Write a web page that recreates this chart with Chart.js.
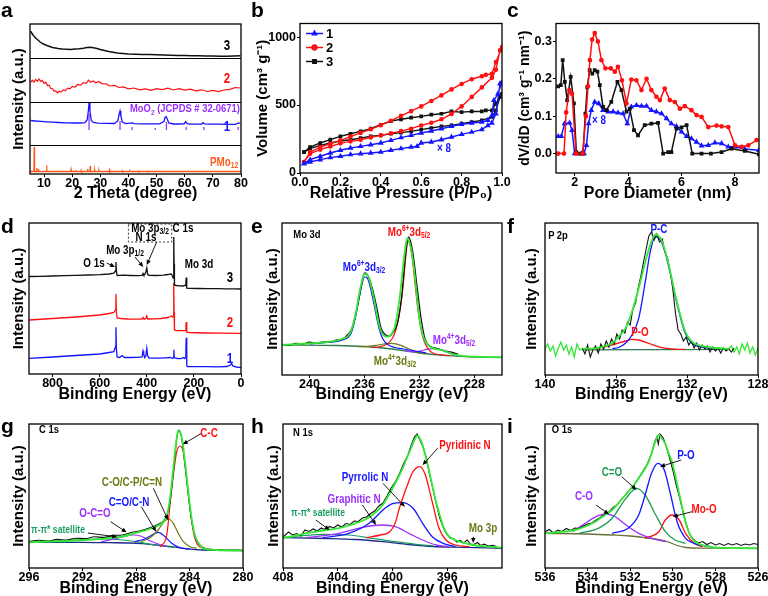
<!DOCTYPE html>
<html>
<head>
<meta charset="utf-8">
<script src="https://cdn.jsdelivr.net/npm/chart.js@4.4.1/dist/chart.umd.min.js"></script>
<style>
html, body { margin: 0; padding: 0; overflow: hidden; background: #fff; }
body { width: 768px; height: 596px; position: relative; }
canvas { position: absolute; }
.note { position: absolute; transform: translate(-50%, -50%) scaleX(0.82); font-weight: bold; font-family: "Liberation Sans", Arial, sans-serif; white-space: nowrap; line-height: 1; }
.note sub { font-size: 68%; vertical-align: -0.3em; }
.note sup { font-size: 68%; vertical-align: 0.55em; }
.tag { position: absolute; font: bold 21px "Liberation Sans Narrow", "Liberation Sans", Arial, sans-serif; line-height: 20px; }
</style>
</head>
<body>
<script>
// ---- panel a : XRD ----
const aX3 = [5.2, 5.6, 6.2, 7.0, 7.8, 8.6, 9.4, 10.2, 11.0, 12.0, 13.0, 14.0, 15.0, 16.5, 18.0, 19.5, 21.0, 22.5, 24.0, 25.2, 26.4, 27.6, 28.8, 30.0, 31.5, 33.0, 34.5, 36.0, 38.0, 40.0, 42.5, 45, 47.5, 50, 52.5, 55, 57.5, 60, 62.5, 65, 67.5, 70, 72.5, 75, 77.5, 79.8];
const aY3 = [143, 141, 138.5, 136, 134, 132, 130.5, 129.5, 128.5, 127.5, 126.5, 126, 125.5, 125, 124.8, 124.6, 125, 125.3, 125.8, 126.5, 126.8, 126.2, 125.5, 124.5, 123.5, 122.5, 121.8, 121, 120.5, 120, 119.8, 119.5, 119.4, 119.2, 119, 118.8, 118.6, 118.5, 118.3, 118.2, 118, 117.9, 117.8, 117.8, 118, 118.2];
const aX2 = [5.2, 5.8, 6.4, 7.0, 7.6, 8.2, 8.8, 9.4, 10.0, 10.6, 11.2, 11.8, 12.4, 13.0, 13.6, 14.2, 14.8, 15.4, 16.0, 16.8, 17.6, 18.4, 19.2, 20.0, 21.0, 22.0, 23.0, 24.0, 25.0, 25.8, 26.6, 27.4, 28.4, 29.4, 30.6, 32.0, 33.4, 35.0, 36.6, 38.2, 40, 42, 44, 46, 48, 50, 52, 54, 56, 58, 60, 62, 64, 66, 68, 70, 72, 74, 76, 78, 79.8];
const aY2 = [91.5, 93.8, 91.7, 94.6, 92.8, 95.0, 92.6, 93.5, 90.6, 91.8, 88.4, 88.9, 85.6, 85.3, 82.6, 83.1, 81.2, 82.8, 81.9, 84.1, 83.4, 85.8, 85.2, 87.6, 87.0, 89.5, 88.8, 91.4, 90.6, 93.9, 91.8, 93.0, 91.2, 92.6, 90.4, 90.1, 88.0, 88.6, 86.5, 87.1, 85.2, 86.0, 84.2, 85.1, 83.6, 85.4, 84.3, 85.9, 84.0, 85.3, 83.8, 84.9, 83.1, 84.2, 82.5, 83.6, 82.4, 84.0, 84.6, 86.5, 86.0];
const aX1 = [5.2, 7, 9, 11, 13, 15, 18, 21, 23, 24.5, 25.3, 25.7, 26.0, 26.3, 26.8, 27.5, 29, 32, 35, 36.2, 36.7, 37.0, 37.3, 37.8, 39, 41.3, 42, 45, 48, 51, 52.6, 53.0, 53.4, 53.8, 54.3, 56, 58, 59.8, 60.3, 60.8, 62, 64, 66.0, 66.5, 67.0, 69, 72, 75, 78, 79.2, 79.8];
const aY1 = [53.5, 53, 52.6, 52.2, 51.8, 51.5, 51.2, 51.0, 51.0, 51.3, 54, 62, 71.5, 63, 53.5, 51.5, 50.8, 50.6, 50.5, 53, 60, 63, 58, 52, 50.4, 51.2, 50.3, 50.2, 50.1, 50.2, 52.5, 56.5, 57.3, 55, 51, 50.0, 50.0, 50.1, 52.3, 50.3, 50.0, 49.9, 50.0, 51.3, 50.1, 49.8, 49.8, 49.7, 49.7, 51.0, 50.5];
const aRefX = [26.0, 37.0, 41.3, 49.5, 53.5, 60.5, 66.8, 79.0];
const aRefTop = [60, 53, 47, 46, 52, 47, 47, 47];
const aRefBase = 44;
const aPX = [6.5, 7.4, 8.0, 10.9, 16.2, 19.6, 21.2, 23.2, 25.5, 26.4, 28.0, 29.5, 31.5, 33.2, 35.0, 37.8, 40.5, 43.5, 47.0];
const aPTop = [27, 6, 5, 8.5, 3.6, 4.5, 4, 3.6, 5, 8, 4, 3.6, 3.3, 4, 3.3, 3.2, 3, 3, 2.9];
const aPBase = 2.5;
const aBands = [29, 72, 116];
const aTicks = [10, 20, 30, 40, 50, 60, 70, 80];

// ---- panel b : N2 isotherms (adsorption then desorption) ----
const b1X = [0.02, 0.05, 0.1, 0.15, 0.2, 0.25, 0.3, 0.35, 0.4, 0.45, 0.5, 0.55, 0.58, 0.6, 0.65, 0.7, 0.75, 0.8, 0.85, 0.9, 0.93, 0.95, 0.97, 0.99, 1.0, 0.98, 0.96, 0.95, 0.93, 0.9, 0.85, 0.8, 0.75, 0.7, 0.65, 0.6, 0.55, 0.5, 0.45, 0.4, 0.35, 0.3, 0.25, 0.2, 0.15, 0.1, 0.05, 0.02];
const b1Y = [69, 81, 98, 113, 123, 135, 142, 147, 154, 167, 179, 191, 196, 221, 228, 245, 265, 284, 301, 319, 350, 368, 436, 657, 669, 583, 534, 424, 387, 375, 368, 358, 343, 326, 309, 294, 277, 260, 240, 221, 208, 196, 184, 167, 147, 123, 98, 69];
const b2X = [0.02, 0.05, 0.1, 0.15, 0.2, 0.25, 0.3, 0.35, 0.4, 0.45, 0.5, 0.55, 0.6, 0.65, 0.7, 0.75, 0.8, 0.85, 0.9, 0.95, 0.97, 0.99, 1.0, 0.97, 0.95, 0.92, 0.9, 0.85, 0.8, 0.75, 0.7, 0.65, 0.6, 0.55, 0.5, 0.45, 0.4, 0.35, 0.3, 0.25, 0.2, 0.15, 0.1, 0.05, 0.02];
const b2Y = [81, 142, 172, 195, 218, 233, 245, 262, 277, 292, 308, 326, 350, 370, 395, 435, 490, 560, 630, 700, 760, 902, 926, 816, 730, 722, 712, 690, 655, 615, 571, 530, 490, 455, 420, 385, 352, 322, 295, 268, 240, 215, 191, 154, 81];
const b3X = b2X;
const b3Y = [154, 179, 203, 221, 235, 245, 257, 270, 277, 289, 297, 306, 319, 331, 343, 350, 363, 375, 387, 412, 461, 560, 583, 510, 461, 461, 453, 453, 448, 453, 436, 429, 417, 407, 395, 382, 355, 326, 306, 289, 270, 245, 221, 191, 154];
const bXTicks = [0, 0.2, 0.4, 0.6, 0.8, 1.0];
const bYTicks = [0, 500, 1000];

// ---- panel c : pore size distribution ----
const c2X = [1.38, 1.6, 1.68, 1.8, 1.9, 2.05, 2.3, 2.42, 2.5, 2.57, 2.65, 2.75, 2.87, 3.0, 3.15, 3.35, 3.5, 3.62, 3.77, 3.94, 4.12, 4.31, 4.5, 4.69, 4.87, 5.06, 5.19, 5.37, 5.56, 5.75, 5.94, 6.12, 6.37, 6.56, 6.75, 7.0, 7.31, 7.5, 7.75, 8.0, 8.25, 8.5, 8.81];
const c2Y = [0, 0, 0.11, 0.17, 0.16, 0, 0, 0.1, 0.18, 0.25, 0.305, 0.322, 0.3, 0.25, 0.228, 0.228, 0.219, 0.232, 0.196, 0.134, 0.198, 0.196, 0.17, 0.2, 0.17, 0.152, 0.143, 0.174, 0.143, 0.138, 0.12, 0.127, 0.116, 0.103, 0.098, 0.071, 0.075, 0.073, 0.071, 0.022, 0.018, 0.022, 0.036];
const c3X = [1.38, 1.48, 1.55, 1.63, 1.72, 1.85, 1.97, 2.06, 2.19, 2.31, 2.4, 2.47, 2.56, 2.66, 2.75, 2.85, 2.94, 3.06, 3.19, 3.37, 3.6, 3.75, 3.94, 4.06, 4.22, 4.37, 4.62, 4.87, 5.12, 5.31, 5.5, 5.62, 5.81, 6.0, 6.19, 6.4, 6.75, 7.1, 7.5, 7.87, 8.37, 8.9];
const c3Y = [0.18, 0.183, 0.25, 0.192, 0.143, 0.205, 0.134, 0.004, 0, 0, 0.107, 0.178, 0.223, 0.214, 0.223, 0.219, 0.183, 0.125, 0.116, 0.138, 0.192, 0.17, 0.112, 0.12, 0.0625, 0.049, 0.076, 0.08, 0.082, 0, 0.004, 0.004, 0.067, 0.07, 0.076, 0, 0, 0, 0.004, 0.013, 0.007, -0.002];
const c1X = [1.38, 1.5, 1.62, 1.81, 1.9, 2.0, 2.25, 2.35, 2.44, 2.52, 2.62, 2.75, 2.9, 3.06, 3.25, 3.44, 3.62, 3.81, 3.97, 4.12, 4.31, 4.5, 4.69, 4.87, 5.06, 5.25, 5.44, 5.62, 5.81, 6.0, 6.19, 6.37, 6.56, 6.75, 7.0, 7.25, 7.5, 7.75, 8.0, 8.37, 8.9];
const c1Y = [0.046, 0.046, 0.08, 0.082, 0.062, 0, 0, 0, 0.022, 0.08, 0.116, 0.138, 0.134, 0.116, 0.112, 0.112, 0.109, 0.107, 0.08, 0.125, 0.129, 0.127, 0.127, 0.116, 0.112, 0.107, 0.094, 0.08, 0.073, 0.058, 0.046, 0.04, 0.031, 0.021, 0.022, 0.029, 0.027, 0.018, 0.018, 0.012, 0.009];
const cXTicks = [2, 4, 6, 8];
const cYTicks = [0, 0.1, 0.2, 0.3];

// ---- panel d : XPS survey ----
const dX3 = [900, 850, 800, 750, 700, 650, 600, 560, 540, 533, 531, 529, 526, 515, 500, 470, 440, 420, 416, 413, 409, 404, 400, 396, 390, 360, 330, 310, 300, 295, 290, 287.5, 286, 285, 284, 282.5, 275, 260, 245, 240, 236, 234, 232.5, 231, 229.5, 220, 180, 140, 100, 60, 30, 0];
const dY3 = [97.5, 97.7, 98, 98.3, 98.6, 99, 99.4, 100, 100.8, 103, 112, 103, 98.5, 98.7, 98.8, 98.5, 98.3, 98.7, 100.5, 99, 99.3, 102, 106, 99.5, 98.6, 98.5, 98.8, 99.5, 100.2, 100, 97, 96, 115, 137, 110, 89, 88.5, 88.2, 88, 88.5, 88.5, 92, 96.5, 90, 85.8, 85.6, 85.5, 85.4, 85.3, 85.2, 85.2, 85];
const dX2 = [900, 800, 700, 600, 560, 540, 533, 531, 529, 526, 510, 480, 450, 420, 416, 413, 409, 404, 400, 396, 370, 340, 310, 300, 295, 290, 287.5, 286, 285, 284, 282.5, 275, 250, 240, 236, 234, 232.5, 231, 229.5, 220, 150, 80, 0];
const dY2 = [54, 55.5, 57, 59, 60.5, 61.5, 64, 80, 62, 56, 55.5, 55, 54.8, 55, 56.5, 55.5, 55, 55.5, 58, 55, 55.2, 55.5, 56.5, 57.5, 58, 57, 58, 70, 91, 62, 44, 43.5, 43.3, 43.3, 43.5, 47, 52, 46, 41.8, 41.5, 41, 40.8, 40.7];
const dX1 = [900, 800, 700, 600, 560, 540, 533, 531, 529, 526, 515, 505, 495, 470, 440, 420, 416, 413, 409, 404, 400, 396, 390, 350, 320, 300, 290, 286.5, 285, 283.5, 280, 270, 255, 245, 240, 236, 234, 232.5, 231, 229.5, 227, 220, 150, 100, 60, 45, 40, 35, 20, 0];
const dY1 = [15.7, 17, 18.5, 20, 21.5, 22.3, 27, 46.7, 25, 17, 16.5, 18.5, 16.5, 16.5, 16.6, 17, 23, 20, 16.5, 18, 25.7, 18, 16, 15.8, 16.2, 16.5, 15.5, 17, 24.3, 16.5, 16, 15.5, 15.4, 16.5, 15.5, 16.5, 24, 36.3, 25, 8, 7.5, 7.4, 7.3, 7.2, 7.5, 9, 10.7, 8, 7, 6.3];
const dTicks = [800, 600, 400, 200, 0];

// ---- panel e : Mo 3d ----
const eEnvX = [242, 241, 240, 239, 238.5, 238, 237.5, 237.2, 237, 236.8, 236.6, 236.4, 236.2, 236.0, 235.8, 235.6, 235.4, 235.2, 235.0, 234.8, 234.6, 234.4, 234.2, 234.0, 233.8, 233.6, 233.4, 233.2, 233.0, 232.9, 232.8, 232.6, 232.4, 232.2, 232.0, 231.8, 231.6, 231.3, 231.0, 230.6, 230.2, 229.8, 229.4, 229, 228, 227, 226];
const eEnvY = [30, 30.8, 31.7, 32.5, 33.3, 34.5, 36.7, 39, 43.3, 52, 64, 80, 93, 101, 100, 93, 82, 68, 53.3, 44, 39.5, 38.3, 39, 41.7, 48, 62, 82, 108, 130, 136.7, 135, 126, 106, 80, 56, 42, 34, 29, 26.7, 25.5, 24, 22, 20.5, 19.3, 18.3, 17.9, 17.7];
const eRawX = [242, 241.5, 241, 240.5, 240, 239.5, 239, 238.5, 238, 237.6, 237.2, 236.9, 236.6, 236.3, 236.0, 235.7, 235.4, 235.1, 234.8, 234.5, 234.2, 233.9, 233.6, 233.3, 233.0, 232.8, 232.5, 232.2, 231.9, 231.6, 231.2, 230.8, 230.4, 230.0, 229.6, 229.2];
const eRawY = [30.5, 29.6, 31.5, 31.0, 32.8, 31.6, 33.2, 33.0, 35.0, 36.0, 40.5, 47, 63, 84, 102, 98, 85, 67, 47, 40.5, 38.8, 43, 52, 78, 122, 138, 124, 91, 58, 36, 28.5, 26.8, 25.2, 23.6, 22.5, 20.8];
const eBlueX = [240, 238.5, 237.5, 237, 236.7, 236.4, 236.2, 236.0, 235.8, 235.6, 235.3, 235.0, 234.7, 234.3, 233.8, 233.2, 232.5, 231.5];
const eBlueY = [31.2, 32.8, 35.5, 41, 55, 76, 90, 98, 97, 89, 70, 50, 37, 30.5, 27.5, 26, 24.5, 22];
const eRedX = [235.5, 235, 234.5, 234, 233.7, 233.4, 233.2, 233.0, 232.85, 232.7, 232.5, 232.3, 232.1, 231.8, 231.5, 231.2, 230.8, 230.3, 229.8];
const eRedY = [27.5, 28, 30, 36, 46, 66, 88, 118, 134, 131, 114, 88, 64, 40, 29, 23.5, 21, 20, 19.3];
const eOliveX = [236.5, 235.8, 235.2, 234.6, 234.1, 233.7, 233.3, 232.8, 232.2, 231.6];
const eOliveY = [28.3, 28.6, 29.6, 31.0, 31.6, 31.2, 29.4, 26.2, 23, 21];
const ePurpleX = [233, 232.4, 231.9, 231.4, 231.0, 230.6, 230.2, 229.7, 229.2, 228.6];
const ePurpleY = [23.8, 23.2, 24.2, 25.8, 26.4, 25.8, 23.8, 21.2, 19.5, 18.4];
const eBaseX = [242, 238, 236, 235, 234, 233, 232, 231, 230, 229, 228, 226];
const eBaseY = [30, 29.5, 28.5, 27.5, 26, 24, 22, 20.5, 19.5, 18.6, 18, 17.7];
const eTicks = [240, 236, 232, 228];

// ---- panel f : P 2p ----
const fEnvX = [137.9, 137.16, 136.6, 136.23, 135.85, 135.47, 135.1, 134.72, 134.35, 134.07, 133.78, 133.5, 133.22, 132.94, 132.66, 132.38, 132.1, 131.72, 130.97, 130.3, 129.65];
const fEnvY = [26.3, 26.7, 29, 31.7, 38.3, 46.7, 63.3, 86.7, 113, 130, 140.7, 136.7, 123.3, 103, 80, 60, 43.3, 33.3, 28.3, 27, 26];
const fLeftX = [140, 139.85, 139.7, 139.55, 139.4, 139.25, 139.1, 138.95, 138.8, 138.65, 138.5, 138.35, 138.2, 138.05, 137.9];
const fLeftY = [26, 31, 24, 29, 19, 27, 33, 25, 30, 21, 28, 18, 31, 25, 26.3];
const fRightX = [129.65, 129.5, 129.35, 129.2, 129.05, 128.9, 128.75, 128.6, 128.45, 128.3, 128.15, 128];
const fRightY = [26, 29, 23, 28, 21, 31, 25, 32, 22, 28, 20, 27];
const fRawX = [137.9, 137.75, 137.6, 137.45, 137.3, 137.15, 137.0, 136.85, 136.7, 136.55, 136.4, 136.25, 136.1, 135.95, 135.8, 135.65, 135.5, 135.35, 135.2, 135.05, 134.9, 134.75, 134.6, 134.45, 134.3, 134.15, 134.0, 133.85, 133.7, 133.55, 133.4, 133.25, 133.1, 132.95, 132.8, 132.65, 132.5, 132.35, 132.2, 132.05, 131.9, 131.75, 131.6, 131.45, 131.3, 131.15, 131.0, 130.85, 130.7, 130.55, 130.4, 130.25, 130.1, 129.95, 129.8, 129.65, 129.5, 129.35];
const fRawY = [27, 21, 30, 18, 25, 29, 22, 31, 26, 34, 28, 36, 31, 41, 36, 45, 42, 53, 50, 66, 72, 87, 99, 113, 126, 139, 143, 135, 141, 133, 136, 124, 117, 104, 86, 62, 45, 41, 34, 38, 30, 34, 27, 32, 25, 30, 26, 29, 23, 28, 24, 27, 22, 27, 24, 26, 23, 27];
const fBlueX = [136.2, 135.85, 135.47, 135.1, 134.72, 134.35, 134.07, 133.78, 133.5, 133.22, 132.94, 132.66, 132.38, 132.1, 131.72, 130.97, 130.3];
const fBlueY = [26.5, 27.5, 31.7, 40, 56.7, 93.3, 123.3, 138.3, 135, 121.7, 101.7, 78.3, 58.3, 41.7, 31.7, 27.3, 26.3];
const fRedX = [137.6, 137.16, 136.23, 135.47, 135.1, 134.72, 134.16, 133.4, 132.5, 132.1];
const fRedY = [26, 26.7, 30, 34, 35.7, 35, 31.7, 27.3, 25.7, 25.5];
const fBaseX = [137.9, 133.8, 129.65];
const fBaseY = [25.2, 25.3, 25.5];
const fTicks = [140, 136, 132, 128];

// ---- panel g : C 1s ----
const gEnvX = [296, 294.5, 293.1, 291.8, 290.6, 289.4, 288.7, 288.1, 287.5, 286.85, 286.4, 286.1, 285.9, 285.7, 285.46, 285.21, 284.96, 284.84, 284.59, 284.34, 284.09, 283.84, 283.6, 283.3, 282.97, 282, 280];
const gEnvY = [25.7, 26.5, 27, 28, 29.2, 30.8, 32.5, 34.8, 37, 39.5, 42, 44.5, 47.5, 52, 69.7, 99.7, 129.7, 137, 131.3, 106.3, 76.3, 49.7, 33, 24.5, 19.7, 18, 17.3];
const gRawX = [296, 295.3, 294.6, 293.9, 293.2, 292.5, 291.8, 291.1, 290.4, 289.7, 289.0, 288.3, 287.6, 286.9, 286.3, 285.9, 285.5, 285.2, 284.95, 284.8, 284.6, 284.35, 284.1, 283.85, 283.6, 283.3, 282.9, 282.4, 281.8, 281.2, 280.6, 280];
const gRawY = [26.5, 27.8, 27.0, 28.6, 28.0, 29.8, 29.4, 31.2, 30.6, 32.6, 33.0, 35.8, 37.4, 40.5, 44, 48, 62, 96, 130, 138, 131, 104, 74, 48, 32, 24, 20, 18.6, 18.2, 17.6, 17.9, 17.4];
const gRedX = [286.2, 285.7, 285.46, 285.21, 284.96, 284.71, 284.46, 284.21, 283.96, 283.71, 283.46, 282.97, 282.5];
const gRedY = [21, 33, 63, 93, 116, 122, 116, 89.7, 59.7, 36.3, 24.7, 19.7, 18.5];
const gOliveX = [287.6, 286.85, 286.35, 285.9, 285.58, 285.21, 284.84, 284.46, 283.96, 283.46];
const gOliveY = [26.3, 31.3, 38, 46.3, 49, 44.7, 34.7, 26.3, 21.3, 19.7];
const gBlueX = [288.1, 287.35, 286.7, 286.33, 285.83, 285.33, 284.71, 283.96];
const gBlueY = [26.3, 29, 33.7, 35.7, 31.3, 24.7, 20.3, 19];
const gPurpleX = [290.6, 289.6, 288.85, 288.2, 287.6, 286.97, 286.35, 285.7];
const gPurpleY = [26.3, 29, 31.7, 33, 31.7, 27.3, 24, 21.3];
const gSatX = [296, 294, 292, 290.6, 289.4, 288.1, 287, 286, 285];
const gSatY = [26, 27, 28.3, 29, 28.5, 26.5, 24, 22, 20.5];
const gBaseX = [296, 292, 290, 288.5, 287.5, 286.5, 285.5, 284.8, 284, 283, 280];
const gBaseY = [25.7, 25.7, 25.3, 25, 24.3, 23, 21.5, 20.3, 18.8, 18, 17.5];
const gTicks = [296, 292, 288, 284, 280];

// ---- panel h : N 1s ----
const hEnvX = [408, 407, 406.1, 405, 404, 403.3, 402.7, 402, 401.45, 400.72, 400, 399.6, 399.26, 398.95, 398.65, 398.4, 398.16, 397.95, 397.8, 397.55, 397.31, 397.05, 396.82, 396.55, 396.33, 396.1, 395.85, 395.5, 395.12, 394.14, 392.93, 392];
const hEnvY = [30.3, 32.5, 35.3, 37.5, 39.7, 42, 44.7, 48.5, 53, 63, 79.7, 90, 99.7, 110, 119.7, 128, 132.3, 128, 123, 110, 96.3, 80, 66.3, 53, 43, 36, 31.3, 28.5, 26.3, 23, 21.3, 20.3];
const hRawX = [408, 407.6, 407.3, 407.0, 406.7, 406.4, 406.1, 405.8, 405.5, 405.2, 404.9, 404.6, 404.3, 404.0, 403.7, 403.4, 403.1, 402.8, 402.5, 402.2, 401.9, 401.6, 401.3, 401.0, 400.7, 400.4, 400.1, 399.8, 399.5, 399.2, 398.9, 398.65, 398.4, 398.2, 398.0, 397.8, 397.55, 397.3, 397.05, 396.8, 396.55, 396.3, 396.05, 395.8, 395.55, 395.3, 395.05, 394.8, 394.55, 394.3, 394.05, 393.8, 393.55, 393.3, 393.0, 392.7, 392.4];
const hRawY = [31, 36, 33, 34.5, 32, 38, 36.5, 39, 37, 40, 38, 41.5, 40, 43, 41, 44.5, 43.5, 47, 46.5, 50, 51, 54.5, 57, 62, 65, 72, 80, 86, 94, 104, 112, 122, 131, 134, 128, 122, 111, 94, 79, 64, 50, 41, 34, 30, 29.5, 26, 27.5, 25, 28, 24, 23.5, 25.5, 22.5, 23.8, 22, 22.8, 21.5];
const hRedX = [401.9, 400.9, 400.2, 399.8, 399.5, 399.0, 398.5, 398.0, 397.6, 397.1, 396.6, 396.1, 395.4, 394.4];
const hRedY = [30.3, 33, 36.3, 45, 59.7, 79.7, 96.3, 101.3, 93, 66.3, 39.7, 28, 23, 21.3];
const hBlueX = [405.1, 403.2, 401.7, 400.7, 400.0, 399.3, 398.5, 397.8, 397.1, 396.3, 395.4];
const hBlueY = [30.3, 34.7, 44.7, 58, 64.3, 65.3, 59.7, 44.7, 31.3, 24.7, 21.3];
const hPurpleX = [406.3, 403.9, 402.2, 400.7, 399.8, 398.8, 397.8, 396.8, 395.9];
const hPurpleY = [30.3, 34.7, 40.7, 43, 41.3, 34.7, 28, 23, 21.3];
const hSatX = [408, 407.5, 405.1, 403.2, 401.5, 399.8, 398.3, 397];
const hSatY = [30.3, 31, 33.7, 33, 29.7, 26.3, 23.7, 22];
const hBaseX = [408, 404.8, 402.7, 400.7, 398.8, 397.0, 395.5, 392];
const hBaseY = [30.3, 29.5, 28.5, 26.3, 23.5, 21.5, 20.8, 19.7];
const hTicks = [408, 404, 400, 396];

// ---- panel i : O 1s ----
const iEnvX = [536, 535.3, 534.58, 534.1, 533.64, 533.25, 532.85, 532.55, 532.23, 531.9, 531.6, 531.35, 531.13, 530.95, 530.82, 530.66, 530.5, 530.35, 530.2, 530.04, 529.88, 529.72, 529.55, 529.41, 529.25, 529.1, 528.9, 528.63, 528.2, 527.85, 527, 526];
const iEnvY = [34.7, 36, 38, 41.5, 46.3, 52, 58, 65, 73, 81, 89.7, 98, 106.3, 118, 126.3, 133, 129, 124, 115, 106.3, 92, 76.3, 60, 46.3, 36, 29.7, 25.5, 23, 21, 20.3, 19.9, 19.7];
const iRawX = [536, 535.8, 535.6, 535.4, 535.2, 535.0, 534.8, 534.6, 534.4, 534.2, 534.0, 533.8, 533.6, 533.4, 533.2, 533.0, 532.8, 532.6, 532.4, 532.2, 532.0, 531.8, 531.6, 531.4, 531.2, 531.0, 530.85, 530.75, 530.68, 530.6, 530.45, 530.3, 530.15, 530.0, 529.85, 529.7, 529.55, 529.4, 529.25, 529.1, 528.95, 528.8, 528.6, 528.4, 528.2, 528.0, 527.8, 527.6, 527.4, 527.2, 527.0, 526.8, 526.6, 526.4, 526.2, 526.0];
const iRawY = [36, 38.5, 35, 38, 36.5, 39.5, 37.5, 40, 39.5, 42, 44, 45, 48, 50.5, 54, 56, 60.5, 63.5, 69, 73.5, 79, 83.5, 90, 97, 104, 114, 126, 131, 124, 134, 130, 121, 110, 98, 84, 72, 59, 46, 36, 30, 27, 25, 26.5, 23.5, 25.5, 23, 24.5, 22.5, 24.5, 23, 24.5, 22.5, 24, 23, 24.5, 23.5];
const iBlueX = [532.85, 532.1, 531.6, 531.3, 531.0, 530.7, 530.4, 530.1, 529.8, 529.4, 529.0, 528.2];
const iBlueY = [34.7, 39.7, 53, 73, 94.7, 104.7, 98, 73, 46.3, 29.7, 24.7, 21.3];
const iGreenX = [534.4, 533.5, 532.85, 532.2, 531.7, 531.3, 530.8, 530.35, 529.9, 529.4];
const iGreenY = [34.7, 39.7, 49.7, 69.7, 79.7, 73, 53, 36.3, 28, 24.7];
const iPurpleX = [534.7, 534.0, 533.5, 533.1, 532.7, 532.2, 531.6, 531.0, 530.35];
const iPurpleY = [36.3, 46.3, 52.3, 54, 51.3, 43, 34.7, 29.7, 26.3];
const iRedX = [531.3, 530.66, 530.35, 530.04, 529.7, 529.4, 529.0, 528.6];
const iRedY = [29.7, 36.3, 48, 53, 48, 34.7, 24.7, 21.3];
const iBaseX = [536, 534, 532.85, 532, 531.3, 530.7, 530.2, 529.8, 529.4, 528.5, 526];
const iBaseY = [34.7, 34, 33, 32, 30.3, 28.5, 26, 22.5, 20.5, 19.9, 19.7];
const iTicks = [536, 534, 532, 530, 528, 526];

// colours
const RED = '#ff1010', BLUE = '#1515ff', GRN = '#33e833', PUR = '#9b30ff', OLIVE = '#6b7a12',
      TEAL = '#1c9e63', DKG = '#2d7a4f', NAVY = '#1f2a8a', ORG = '#ff5a1e', GRN2 = '#1e9a55', BASEI = '#6d6d3a', BLK = '#111';

const NARROW = '"Liberation Sans Narrow", "Liberation Sans", Arial, sans-serif';
const REG = '"Liberation Sans", Arial, sans-serif';
Chart.defaults.font.family = NARROW;
Chart.defaults.font.weight = 'bold';
Chart.defaults.color = '#000';
Chart.defaults.elements.point.radius = 0;

// frame, separators, dotted box and arrows
Chart.register({
    id: 'frame',
    afterDatasetsDraw(chart, args, o) {
        const ctx = chart.ctx, a = chart.chartArea, sx = chart.scales.x, sy = chart.scales.y;
        ctx.save();
        ctx.strokeStyle = '#000';
        ctx.lineWidth = 1.2;
        (o.lines || []).forEach(function (v) {
            const y = Math.round(sy.getPixelForValue(v)) + 0.5;
            ctx.beginPath(); ctx.moveTo(a.left, y); ctx.lineTo(a.right, y); ctx.stroke();
        });
        ctx.lineWidth = 0.8;
        ctx.setLineDash([2, 2]);
        (o.boxes || []).forEach(function (b) {
            const x1 = sx.getPixelForValue(b[0]), y1 = sy.getPixelForValue(b[1]);
            const x2 = sx.getPixelForValue(b[2]), y2 = sy.getPixelForValue(b[3]);
            ctx.strokeRect(x1, y1, x2 - x1, y2 - y1);
        });
        ctx.setLineDash([]);
        ctx.fillStyle = '#000';
        ctx.lineWidth = 0.9;
        (o.arrows || []).forEach(function (r) {
            const x1 = sx.getPixelForValue(r[0]), y1 = sy.getPixelForValue(r[1]);
            const x2 = sx.getPixelForValue(r[2]), y2 = sy.getPixelForValue(r[3]);
            const c = Math.cos(Math.atan2(y2 - y1, x2 - x1)), s = Math.sin(Math.atan2(y2 - y1, x2 - x1));
            ctx.beginPath(); ctx.moveTo(x1, y1); ctx.lineTo(x2 - 3 * c, y2 - 3 * s); ctx.stroke();
            ctx.beginPath(); ctx.moveTo(x2, y2);
            ctx.lineTo(x2 - 5 * c + 2.2 * s, y2 - 5 * s - 2.2 * c);
            ctx.lineTo(x2 - 5 * c - 2.2 * s, y2 - 5 * s + 2.2 * c);
            ctx.closePath(); ctx.fill();
        });
        ctx.lineWidth = 1.3;
        ctx.strokeRect(a.left, a.top, a.right - a.left, a.bottom - a.top);
        ctx.restore();
    }
});

// legend drawn inside the plot (panel b)
Chart.register({
    id: 'inLegend',
    afterDatasetsDraw(chart, args, o) {
        if (!o.show) return;
        const ctx = chart.ctx, a = chart.chartArea;
        chart.data.datasets.forEach(function (ds, i) {
            const x = a.left + 6, y = a.top + 10 + i * 14;
            ctx.save();
            ctx.strokeStyle = ds.borderColor; ctx.fillStyle = ds.borderColor; ctx.lineWidth = 1.5;
            ctx.beginPath(); ctx.moveTo(x, y); ctx.lineTo(x + 17, y); ctx.stroke();
            Chart.helpers.drawPoint(ctx, {pointStyle: ds.pointStyle, radius: 2.4, borderWidth: 1, rotation: 0}, x + 8.5, y);
            ctx.fillStyle = '#000'; ctx.font = 'bold 13px ' + NARROW; ctx.textBaseline = 'middle';
            ctx.fillText(ds.label, x + 20, y + 0.5);
            ctx.restore();
        });
    }
});

function ser(xs, ys, color, w, extra) {
    return Object.assign({
        data: xs.map(function (x, i) { return {x: x, y: ys[i]}; }),
        borderColor: color, backgroundColor: color, borderWidth: w || 1.3, pointRadius: 0, tension: 0
    }, extra || {});
}
const smooth = {cubicInterpolationMode: 'monotone'};

function sticks(xs, tops, base) {
    const out = [];
    xs.forEach(function (x, i) { out.push({x: x, y: base}, {x: x, y: tops[i]}, {x: x, y: null}); });
    return out;
}
function spikes(xs, tops, base, x0, x1) {
    const out = [{x: x0, y: base}];
    xs.forEach(function (x, i) { out.push({x: x - 0.12, y: base}, {x: x, y: tops[i]}, {x: x + 0.12, y: base}); });
    out.push({x: x1, y: base});
    return out;
}

function panel(box, o) {
    const L = box[0], T = box[1], R = box[2], B = box[3];
    const pt = 8, pr = 12;
    const cv = document.createElement('canvas');
    cv.width = R - L + o.yw + pr;
    cv.height = B - T + pt + o.xh;
    cv.style.left = (L - o.yw) + 'px';
    cv.style.top = (T - pt) + 'px';
    document.body.appendChild(cv);
    return new Chart(cv, {
        type: 'line',
        data: {datasets: o.sets},
        options: {
            responsive: false, animation: false, events: [],
            layout: {padding: {top: pt, right: pr, left: 0, bottom: 0}},
            plugins: {legend: {display: false}, tooltip: {enabled: false}, frame: o.frame || {}, inLegend: {show: !!o.legend}},
            scales: {
                x: {
                    type: 'linear', min: o.xmin, max: o.xmax, reverse: !!o.rev,
                    afterBuildTicks: function (s) { s.ticks = o.xt.map(function (v) { return {value: v}; }); },
                    afterFit: function (s) { s.height = o.xh; },
                    grid: {drawOnChartArea: false, tickLength: 3, color: '#000'},
                    border: {display: false},
                    ticks: {autoSkip: false, maxRotation: 0, padding: -1, font: {size: 12.5}, callback: o.xf || function (v) { return v; }},
                    title: {display: true, text: o.xTitle, font: {size: 16}, padding: 0}
                },
                y: {
                    type: 'linear', min: o.ymin, max: o.ymax,
                    afterBuildTicks: function (s) { s.ticks = (o.yt || []).map(function (v) { return {value: v}; }); },
                    afterFit: function (s) { s.width = o.yw; },
                    grid: {display: !!o.yt, drawOnChartArea: false, tickLength: 3, color: '#000'},
                    border: {display: false},
                    ticks: {display: !!o.yt, padding: 1, font: {size: 12.5}, callback: o.yf || function (v) { return v; }},
                    title: {display: true, text: o.yTitle, font: {family: REG, size: o.ys || 15}, padding: {top: o.yp, bottom: 0}}
                }
            }
        }
    });
}

const INT = 'Intensity (a.u.)', BE = 'Binding Energy (eV)';
const fix1 = function (v) { return Number(v).toFixed(1); };

// a
panel([30, 24, 241, 174], {
    yw: 30, xh: 29, yp: 10, xmin: 5, xmax: 80, xt: aTicks, ymin: 0, ymax: 150,
    xTitle: '2 Theta (degree)', yTitle: INT, frame: {lines: aBands},
    sets: [
        ser(aX3, aY3, BLK, 1.5),
        ser(aX2, aY2, RED, 1.2),
        ser(aX1, aY1, BLUE, 1.3),
        {data: sticks(aRefX, aRefTop, aRefBase), borderColor: PUR, borderWidth: 1.3, pointRadius: 0, spanGaps: false, order: 1},
        {data: spikes(aPX, aPTop, aPBase, 5, 80), borderColor: ORG, borderWidth: 1.3, pointRadius: 0}
    ]
});

// b
panel([300, 23, 502, 173], {
    yw: 48, xh: 30, yp: 2, xmin: 0, xmax: 1, xt: bXTicks, xf: fix1, ymin: 0, ymax: 1100, yt: bYTicks,
    xTitle: 'Relative Pressure (P/P\u2080)', yTitle: 'Volume (cm\u00b3 g\u207b\u00b9)', legend: true,
    sets: [
        ser(b1X, b1Y, BLUE, 1.4, {label: '1', pointRadius: 2, pointStyle: 'triangle'}),
        ser(b2X, b2Y, RED, 1.4, {label: '2', pointRadius: 1.6, pointStyle: 'circle'}),
        ser(b3X, b3Y, BLK, 1.4, {label: '3', pointRadius: 1.6, pointStyle: 'rect'})
    ]
});

// c
panel([556, 23, 759, 173], {
    yw: 46, xh: 30, yp: 7, ys: 14, xmin: 1.3, xmax: 8.9, xt: cXTicks, ymin: -0.052, ymax: 0.348, yt: cYTicks, yf: fix1,
    xTitle: 'Pore Diameter (nm)', yTitle: 'dV/dD (cm\u00b3 g\u207b\u00b9 nm\u207b\u00b9)',
    sets: [
        ser(c2X, c2Y, RED, 1.5, {pointRadius: 1.6, pointStyle: 'circle'}),
        ser(c3X, c3Y, BLK, 1.5, {pointRadius: 1.6, pointStyle: 'rect'}),
        ser(c1X, c1Y, BLUE, 1.5, {pointRadius: 1.9, pointStyle: 'triangle'})
    ]
});

// d
panel([29, 223, 241, 374], {
    yw: 29, xh: 30, yp: 9.5, xmin: 0, xmax: 900, rev: true, xt: dTicks, ymin: 0, ymax: 151,
    xTitle: BE, yTitle: INT,
    frame: {boxes: [[478, 150, 294, 132]], arrows: [[570, 111, 535, 107], [450, 117, 415, 107], [358, 132, 400, 109]]},
    sets: [ser(dX3, dY3, BLK, 1.3), ser(dX2, dY2, RED, 1.3), ser(dX1, dY1, BLUE, 1.3)]
});

// e
panel([282, 223, 502, 375], {
    yw: 26, xh: 29, yp: 8, xmin: 226, xmax: 242, rev: true, xt: eTicks, ymin: 0, ymax: 152,
    xTitle: BE, yTitle: INT,
    sets: [
        ser(eEnvX, eEnvY, GRN, 1.8, smooth),
        ser(eRawX, eRawY, BLK, 1.3, smooth),
        ser(eBlueX, eBlueY, BLUE, 1.2, smooth),
        ser(eRedX, eRedY, RED, 1.2, smooth),
        ser(ePurpleX, ePurpleY, PUR, 1.2, smooth),
        ser(eOliveX, eOliveY, OLIVE, 1.2, smooth),
        ser(eBaseX, eBaseY, DKG, 1.3, smooth)
    ]
});

// f
panel([545, 223, 758, 375], {
    yw: 33, xh: 29, yp: 11, xmin: 128, xmax: 140, rev: true, xt: fTicks, ymin: 0, ymax: 152,
    xTitle: BE, yTitle: INT,
    sets: [
        ser(fEnvX, fEnvY, GRN, 1.8, smooth),
        ser(fRawX, fRawY, BLK, 1.1),
        ser(fLeftX, fLeftY, GRN, 1.3),
        ser(fRightX, fRightY, GRN, 1.3),
        ser(fBlueX, fBlueY, BLUE, 1.3, smooth),
        ser(fRedX, fRedY, RED, 1.3, smooth),
        ser(fBaseX, fBaseY, DKG, 1.2)
    ]
});

// g
panel([29, 424, 243, 568], {
    yw: 29, xh: 30, yp: 10, xmin: 280, xmax: 296, rev: true, xt: gTicks, ymin: 0, ymax: 144,
    xTitle: BE, yTitle: INT,
    frame: {arrows: [[283.1, 134.7, 284.5, 123.7], [286.7, 79.7, 285.6, 48], [287.6, 61.3, 286.5, 36.3], [289.9, 46.3, 288.7, 35.7], [291.6, 35, 289.4, 31]]},
    sets: [
        ser(gEnvX, gEnvY, GRN, 1.8, smooth),
        ser(gRawX, gRawY, BLK, 1.1, smooth),
        ser(gRedX, gRedY, RED, 1.2, smooth),
        ser(gOliveX, gOliveY, OLIVE, 1.2, smooth),
        ser(gBlueX, gBlueY, BLUE, 1.2, smooth),
        ser(gPurpleX, gPurpleY, PUR, 1.2, smooth),
        ser(gSatX, gSatY, TEAL, 1.2, smooth),
        ser(gBaseX, gBaseY, NAVY, 1.3, smooth)
    ]
});

// h
panel([283, 424, 502, 568], {
    yw: 27, xh: 30, yp: 9, xmin: 392, xmax: 408, rev: true, xt: hTicks, ymin: 0, ymax: 144,
    xTitle: BE, yTitle: INT,
    frame: {arrows: [[396.7, 119.7, 397.8, 103], [400.7, 84.7, 399.1, 61.3], [402.2, 63, 401.2, 43], [405.6, 48, 404.6, 38], [394.1, 31.3, 394.1, 25]]},
    sets: [
        ser(hEnvX, hEnvY, GRN, 1.8, smooth),
        ser(hRawX, hRawY, BLK, 1.1),
        ser(hRedX, hRedY, RED, 1.3, smooth),
        ser(hBlueX, hBlueY, BLUE, 1.3, smooth),
        ser(hPurpleX, hPurpleY, PUR, 1.3, smooth),
        ser(hSatX, hSatY, TEAL, 1.2, smooth),
        ser(hBaseX, hBaseY, NAVY, 1.3, smooth)
    ]
});

// i
panel([545, 424, 758, 568], {
    yw: 33, xh: 30, yp: 11, xmin: 526, xmax: 536, rev: true, xt: iTicks, ymin: 0, ymax: 144,
    xTitle: BE, yTitle: INT,
    frame: {arrows: [[529.6, 108, 530.6, 101.3], [532.4, 91.3, 531.7, 78], [533.6, 63, 533.0, 53.7], [529.1, 56.3, 530.0, 51.3]]},
    sets: [
        ser(iEnvX, iEnvY, GRN, 1.8, smooth),
        ser(iRawX, iRawY, BLK, 1.1),
        ser(iBlueX, iBlueY, BLUE, 1.3, smooth),
        ser(iGreenX, iGreenY, GRN2, 1.3, smooth),
        ser(iPurpleX, iPurpleY, PUR, 1.3, smooth),
        ser(iRedX, iRedY, RED, 1.3, smooth),
        ser(iBaseX, iBaseY, BASEI, 1.3, smooth)
    ]
});

// text labels
const notes = [
    ['3', 227, 45, '#000', 14], ['2', 227, 78, RED, 14], ['MoO<sub>2</sub> (JCPDS # 32-0671)', 185, 110, PUR, 11.5],
    ['1', 227, 126, BLUE, 14], ['PMo<sub>12</sub>', 224, 163, ORG, 12],
    ['\u00d7 8', 444, 148, BLUE, 12], ['\u00d7 8', 599, 120, BLUE, 12],
    ['O 1s', 94, 263, '#000', 12], ['Mo 3p<sub>1/2</sub>', 125, 251, '#000', 12], ['Mo 3p<sub>3/2</sub>', 150, 229, '#000', 12],
    ['N 1s', 146, 237, '#000', 12], ['C 1s', 183, 228, '#000', 12], ['Mo 3d', 199, 264, '#000', 12],
    ['3', 230, 277, '#000', 14], ['2', 230, 322, RED, 14], ['1', 230, 358, BLUE, 14],
    ['Mo 3d', 307, 235, '#000', 11.5], ['Mo<sup>6+</sup>3d<sub>3/2</sub>', 364, 268, BLUE, 12], ['Mo<sup>6+</sup>3d<sub>5/2</sub>', 409, 233, RED, 12],
    ['Mo<sup>4+</sup>3d<sub>5/2</sub>', 454, 341, PUR, 12], ['Mo<sup>4+</sup>3d<sub>3/2</sub>', 395, 362, OLIVE, 12],
    ['P 2p', 558, 236, '#000', 11.5], ['P-C', 659, 229, BLUE, 12], ['P-O', 640, 332, RED, 12],
    ['C 1s', 49, 430, '#000', 11.5], ['C-C', 209, 433, RED, 12], ['C-O/C-P/C=N', 132, 482, OLIVE, 12], ['C=O/C-N', 129, 502, BLUE, 12],
    ['O-C=O', 95, 513, PUR, 12], ['\u03c0-\u03c0* satellite', 58, 529, TEAL, 10.5],
    ['N 1s', 303, 433, '#000', 11.5], ['Pyridinic N', 465, 445, RED, 12], ['Pyrrolic N', 365, 477, BLUE, 12],
    ['Graphitic N', 354, 499, PUR, 12], ['\u03c0-\u03c0* satellite', 318, 512, TEAL, 10.5], ['Mo 3p', 483, 528, OLIVE, 12],
    ['O 1s', 562, 430, '#000', 11.5], ['P-O', 686, 455, BLUE, 12], ['C=O', 612, 472, GRN2, 12], ['C-O', 584, 496, PUR, 12], ['Mo-O', 704, 509, RED, 12]
];
notes.forEach(function (n) {
    const d = document.createElement('div');
    d.className = 'note';
    d.innerHTML = n[0];
    d.style.left = n[1] + 'px';
    d.style.top = n[2] + 'px';
    d.style.color = n[3];
    d.style.fontSize = n[4] + 'px';
    document.body.appendChild(d);
});

const tags = [['a', 1, 0], ['b', 251, 0], ['c', 507, 0], ['d', 1, 216], ['e', 251, 216], ['f', 507, 216], ['g', 1, 416], ['h', 251, 416], ['i', 507, 416]];
tags.forEach(function (t) {
    const d = document.createElement('div');
    d.className = 'tag';
    d.textContent = t[0];
    d.style.left = t[1] + 'px';
    d.style.top = t[2] + 'px';
    document.body.appendChild(d);
});
</script>
</body>
</html>
